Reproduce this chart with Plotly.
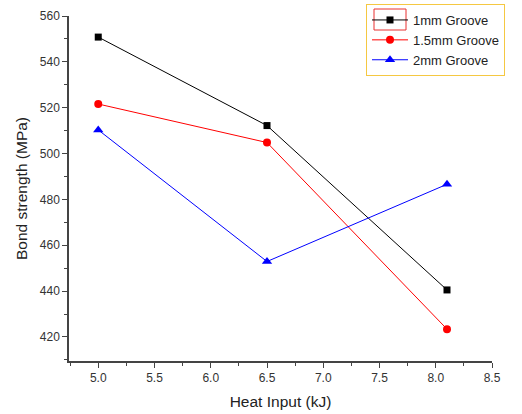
import plotly.graph_objects as go

heat_input = [5.0, 6.5, 8.1]
groove_1mm = [550.8, 512.2, 440.5]
groove_1_5mm = [521.6, 504.8, 423.4]
groove_2mm = [510.3, 452.9, 486.6]

series = [
    ("1mm Groove", groove_1mm, "black", "square", 7),
    ("1.5mm Groove", groove_1_5mm, "red", "circle", 8),
    ("2mm Groove", groove_2mm, "blue", "triangle-up", 9),
]

fig = go.Figure()
for name, vals, col, sym, sz in series:
    fig.add_trace(go.Scatter(
        x=heat_input, y=vals, name=name, mode="lines+markers",
        line=dict(color=col, width=1),
        marker=dict(symbol=sym, size=sz, color=col),
    ))

axis_common = dict(
    showline=True, linecolor="#444", linewidth=1.5, mirror=False,
    showgrid=False, zeroline=False, ticks="outside", ticklen=5,
    tickcolor="#444", tickfont=dict(family="Liberation Sans", size=12, color="#333"),
    automargin=False,
)

# plot area in page pixels: x 69..492, y 16..361
PX0, PX1, PY0, PY1 = 69, 492, 16, 361


def px(x):
    return (x - PX0) / (PX1 - PX0)


def py(y):
    return (PY1 - y) / (PY1 - PY0)


fig.update_layout(
    width=522, height=414,
    margin=dict(l=69, r=30, t=16, b=53, autoexpand=False),
    plot_bgcolor="white", paper_bgcolor="white",
    font=dict(family="Liberation Sans", color="#222"),
    xaxis=dict(
        range=[4.74, 8.5], tickmode="array",
        tickvals=[5.0, 5.5, 6.0, 6.5, 7.0, 7.5, 8.0, 8.5],
        ticktext=["5.0", "5.5", "6.0", "6.5", "7.0", "7.5", "8.0", "8.5"],
        minor=dict(ticks="outside", ticklen=3, dtick=0.25, tick0=0, tickcolor="#444"),
        title=dict(text="Heat Input (kJ)", font=dict(size=15.5, family="Liberation Sans", color="#222"), standoff=12),
        **axis_common,
    ),
    yaxis=dict(
        range=[409.5, 560], tickmode="array",
        tickvals=[420, 440, 460, 480, 500, 520, 540, 560],
        minor=dict(ticks="outside", ticklen=3, dtick=10, tick0=0, tickcolor="#444"),
        title=dict(text="Bond strength (MPa)", font=dict(size=15.5, family="Liberation Sans", color="#222"), standoff=8),
        **axis_common,
    ),
    legend=dict(
        x=px(366), y=py(4), xanchor="left", yanchor="top",
        bordercolor="#f5c842", borderwidth=1, bgcolor="rgba(0,0,0,0)",
        font=dict(family="Liberation Sans", size=13, color="#222"),
        tracegroupgap=0, itemwidth=36,
    ),
    shapes=[dict(
        type="rect", xref="paper", yref="paper",
        x0=px(374), x1=px(406), y0=py(30), y1=py(9),
        line=dict(color="#e83030", width=1), fillcolor="rgba(0,0,0,0)",
    )],
    showlegend=True,
)

fig.write_html("out.html", post_script="document.body.style.margin='0';",
               config={"displayModeBar": False})
